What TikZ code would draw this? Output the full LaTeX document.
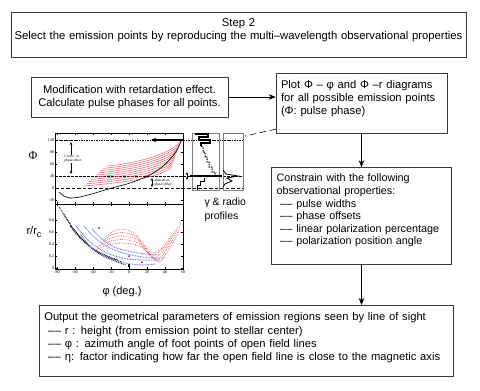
\documentclass[tikz,border=0pt]{standalone}
\usepackage{fontspec}
\setmainfont{Liberation Sans}
\newfontfamily\serifgr{Liberation Serif}
\usetikzlibrary{positioning,arrows.meta,calc}
\definecolor{cline}{HTML}{3A3A3A}
\definecolor{cred}{HTML}{EC5C66}
\definecolor{cblue}{HTML}{6A7BE0}
\newcommand{\dd}{–\kern0.6pt–}
\tikzset{
  box/.style={rectangle, draw=cline, line width=0.6pt, inner xsep=5pt},
  flow/.style={-{Stealth[length=7pt,width=5.5pt]}, line width=0.6pt, draw=black},
  frame/.style={draw=black, line width=0.45pt},
  tick/.style={font=\fontsize{4.2}{4.2}\selectfont\serifgr, inner sep=0.6pt},
  note/.style={font=\fontsize{3.6}{4}\selectfont\serifgr, inner sep=0.3pt, fill=white, align=left},
  guide/.style={line width=0.5pt, dash pattern=on 2.5pt off 1.5pt},
  guidedot/.style={line width=0.5pt, dash pattern=on 2.5pt off 1pt on 0.6pt off 1pt},
  redpts/.style={cred, line width=0.8pt, dash pattern=on 0.7pt off 1.1pt},
  bluepts/.style={cblue, line width=1pt, dash pattern=on 0.8pt off 0.8pt},
  blackpts/.style={black, line width=0.9pt, dash pattern=on 0.8pt off 1pt},
  tip/.style={{Stealth[length=3pt,width=2.5pt]}-{Stealth[length=3pt,width=2.5pt]}, line width=0.4pt}
}
\begin{document}
\begin{tikzpicture}[x=1pt,y=-1pt]
\useasboundingbox (0,0) rectangle (480,391);
% boxes of the flow
\node[box, anchor=north, text width=451pt, inner xsep=2pt, inner ysep=6pt, text depth=25pt, align=center,
      font=\fontsize{11.3}{13}\selectfont] (step) at (238.5,12)
  {Step 2\\Select the emission points by reproducing the multi–wavelength observational properties};
\node[box, minimum width=197pt, minimum height=40pt, align=center,
      font=\fontsize{11.2}{13}\selectfont] (mod) at (129.5,97)
  {Modification with retardation effect.\\Calculate pulse phases for all points.};
\node[box, anchor=north, text width=161pt, inner ysep=7pt, text depth=37.5pt, align=left,
      font=\fontsize{11.2}{13}\selectfont] (plot) at (361.5,73)
  {Plot Φ – φ and Φ –r diagrams\\for all possible emission points\\(Φ: pulse phase)};
\node[box, below=34pt of plot, text width=170pt, inner ysep=6.5pt, text depth=76pt, align=left,
      font=\fontsize{10.8}{12.6}\selectfont] (cons)
  {Constrain with the following\\observational properties:\\
   \ \dd~pulse widths\\ \ \dd~phase offsets\\ \ \dd~linear polarization percentage\\
   \ \dd~polarization position angle};
\node[box, anchor=north west, text width=404pt, inner ysep=7.5pt, text depth=47.5pt, align=left,
      font=\fontsize{11.2}{13.3}\selectfont] (out) at (39,305)
  {Output the geometrical parameters of emission regions seen by line of sight\\
   \ \dd~r : height (from emission point to stellar center)\\
   \ \dd~φ : azimuth angle of foot points of open field lines\\
   \ \dd~η: factor indicating how far the open field line is close to the magnetic axis};
\coordinate (proftop) at (245,136);
\draw[flow] (mod.east) -- (mod.east -| plot.west);
\draw[flow] (plot.south) -- (cons.north);
\draw[flow] (cons.south) -- (cons.south |- out.north);
\draw[line width=0.6pt, dash pattern=on 6pt off 4pt] ($(plot.south west)+(0,-4)$) -- (proftop);
% the plot
\draw[frame] (55,133) rectangle (183,204);
\draw[frame] (55,204) rectangle (183,269);
\foreach \x in {57,75,...,183} {
  \draw[frame] (\x,133) -- (\x,135);
  \draw[frame] (\x,204) -- (\x,202);
  \draw[frame] (\x,204) -- (\x,206);
  \draw[frame] (\x,269) -- (\x,267);
}
\foreach \y/\l [count=\k] in {140/120,152/90,164/60,176/30,188/0,200/-30} {
  \draw[frame] (55,\y) -- (57,\y);
  \draw[frame] (183,\y) -- (181,\y);
  \node[tick, left] (phit\k) at (55,\y) {\l};
}
\foreach \y/\l [count=\k] in {268/0,256/0.2,244/0.4,232/0.6,220/0.8} {
  \draw[frame] (55,\y) -- (57,\y);
  \draw[frame] (183,\y) -- (181,\y);
  \node[tick, left] (rt\k) at (55,\y) {\l};
}
\foreach \x/\l [count=\k] in {57/-80,75/-60,93/-40,111/-20,129/0,147/20,165/40,183/60}
  \node[tick, below] (xt\k) at (\x,270) {\l};
\node[font=\fontsize{12}{12}\selectfont\serifgr] (philab) at (33,156) {Φ};
\node[font=\fontsize{11}{11}\selectfont] (rlab) at (34,232) {r/r\raisebox{-3pt}{\fontsize{9}{9}\selectfont c}};
\node[font=\fontsize{11}{11}\selectfont] (xlab) at (122,292) {φ (deg.)};
% guide lines
\draw[guidedot] (55,140) -- (243,140);
\draw[guide] (55,176) -- (243,176);
\draw[line width=0.5pt, dash pattern=on 3.5pt off 2pt] (55,188) -- (243,188);
% red tracks, upper panel
\foreach \i in {0,...,9} {
  \pgfmathsetmacro{\xs}{84+2.4*\i}
  \pgfmathsetmacro{\ys}{186-2.2*\i}
  \pgfmathsetmacro{\xe}{172+1*\i}
  \pgfmathsetmacro{\ye}{166-2.8*\i}
  \pgfmathsetmacro{\ca}{\xs+0.55*(\xe-\xs)}
  \pgfmathsetmacro{\cb}{\ys-4}
  \pgfmathsetmacro{\cc}{\xe-7}
  \pgfmathsetmacro{\cd}{\ye+10}
  \draw[cred, line width=0.5pt] (\xs,\ys) .. controls (\ca,\cb) and (\cc,\cd) .. (\xe,\ye);
}
\draw[line width=0.6pt] plot[smooth] coordinates {(59,192) (64,196) (70,198) (80,197) (95,193)
  (112,188) (130,183) (148,176) (162,167) (172,157) (178,148) (182,139)};
\draw[-{Stealth[length=5pt,width=4.5pt]}, line width=1.2pt] (183,140) -- (151,140);
\draw[tip] (71,142) -- (71,174);
\node[note] (corr) at (73,159) {Correc. to\\phase effect};
\draw[tip] (152,178) -- (152,187);
\node[note, anchor=west] (aber) at (154,182.5) {aberration\\phase offset};
% profiles
\draw[gray, line width=0.4pt] (192,133) rectangle (219,190);
\draw[gray, line width=0.4pt] (223,133) rectangle (243,190);
\draw[line width=1.1pt] (195,134) -- (208,134) -- (208,137) -- (199,137) -- (199,140) -- (210,140)
  -- (210,143) -- (201,143) -- (201,146);
\draw[line width=1pt, dash pattern=on 1.5pt off 1pt] (201,146) -- (203,147) -- (203,152) -- (205,152) -- (205,157)
  -- (207,157) -- (207,162) -- (209,162) -- (209,167) -- (212,167) -- (212,172) -- (215,172) -- (215,176);
\draw[line width=1.2pt] (190,176) -- (222,176);
\draw[line width=0.9pt] (204,178) -- (204,181) -- (200,181) -- (200,185) -- (197,185) -- (197,190);
\draw[line width=0.8pt] (223,170) -- (226,174) -- (238,176) -- (227,178) -- (232,181) -- (225,184) -- (223,187);
\draw[tip] (187,172) -- (187,180);
\node[anchor=west, align=left, font=\fontsize{10.5}{14}\selectfont] (proflab) at (201,210) {γ \& radio\\profiles};
% lower panel
\draw[blackpts] plot[smooth] coordinates {(59,207) (66,218) (75,231) (86,243) (98,253) (112,260) (126,265)};
\draw[blackpts] plot[smooth] coordinates {(64,214) (72,227) (82,239) (95,250) (108,257) (122,262)};
\draw[blackpts] plot[smooth] coordinates {(70,226) (80,238) (92,248) (105,255) (118,260)};
\draw[bluepts] plot[smooth] coordinates {(76,226) (86,238) (98,248) (112,255) (128,259) (145,260) (160,260)};
\draw[bluepts] plot[smooth] coordinates {(84,226) (94,237) (106,246) (120,252) (136,256) (152,258) (164,258)};
\draw[bluepts] plot[smooth] coordinates {(92,229) (102,239) (114,247) (128,251) (145,254) (158,255)};
\draw[bluepts] plot[smooth] coordinates {(80,234) (92,248) (108,258) (125,263) (142,265) (156,264)};
\foreach \i in {0,...,4} {
  \draw[redpts] plot[smooth] coordinates {({107-3*\i},{236+3.5*\i}) ({114-1.5*\i},{231+3.5*\i}) (122,{229+3.5*\i})
    ({130+1.5*\i},{231+3.5*\i}) ({137+3*\i},{236+3.5*\i}) ({141+2*\i},{245+2*\i}) ({146+2*\i},{251+2*\i})
    ({153+2*\i},{253+2*\i}) ({163+3*\i},{247-2*\i}) ({169+3*\i},{238-4*\i})};
}
\fill[violet] (99,228) circle (1pt) (129,256) circle (1pt) (142,262) circle (1pt);
\fill (128,264) rectangle (130,267);
\end{tikzpicture}
\end{document}
